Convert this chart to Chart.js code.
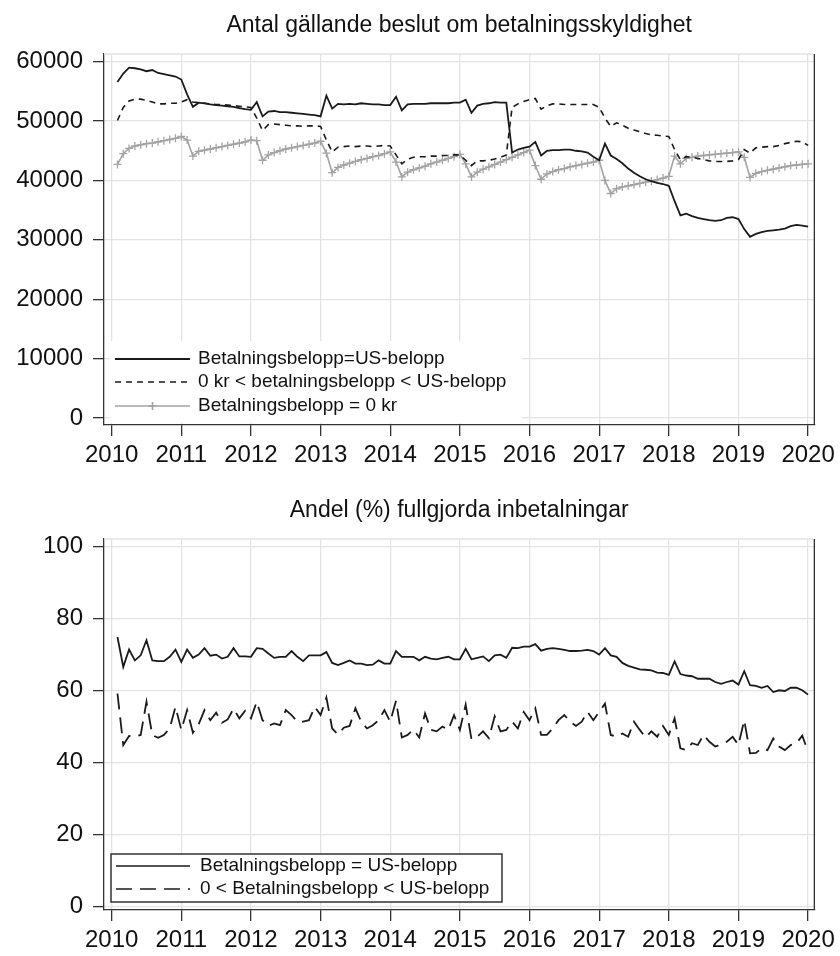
<!DOCTYPE html>
<html>
<head>
<meta charset="utf-8">
<script src="https://cdn.jsdelivr.net/npm/chart.js@4.4.1/dist/chart.umd.min.js"></script>
<style>
  html, body { margin: 0; padding: 0; background: #fff; }
  #wrap { position: relative; width: 840px; height: 956px; }
  canvas { position: absolute; left: 0; }
  #chart-beslut { top: 0; }
  #chart-andel { top: 485px; }
</style>
</head>
<body>
<div id="wrap">
  <canvas id="chart-beslut" width="840" height="485"></canvas>
  <canvas id="chart-andel" width="840" height="471"></canvas>
</div>
<script>
// monthly observations 2010m2 .. 2020m1
const months = [];
for (let y = 2010; y <= 2020; y++) {
  for (let m = 1; m <= 12; m++) {
    if ((y === 2010 && m < 2) || (y === 2020 && m > 1)) continue;
    months.push({ year: y, month: m });
  }
}
const years = [2010, 2011, 2012, 2013, 2014, 2015, 2016, 2017, 2018, 2019, 2020];
const beslutTicks = [0, 10000, 20000, 30000, 40000, 50000, 60000];
const andelTicks = [0, 20, 40, 60, 80, 100];

// Antal gällande beslut
const usBelopp = [
  56600, 58000, 59000, 58900, 58700, 58400, 58600, 58100, 57900, 57700, 57500, 57000,
  54500, 52400, 53100, 53000, 52800, 52700, 52600, 52500, 52400, 52200, 52000, 51900,
  53200, 50800, 51600, 51700, 51500, 51500, 51400, 51300, 51200, 51100, 51000, 50800,
  54300, 52100, 52900, 52800, 52900, 52800, 53000, 52900, 52800, 52800, 52700, 52700,
  54100, 51800, 52800, 52900, 52900, 52900, 53000, 53000, 53000, 53000, 53100, 53100,
  53600, 51400, 52600, 52900, 53000, 53200, 53100, 53100, 44700, 45200, 45500, 45700,
  46500, 44200, 45000, 45100, 45100, 45200, 45200, 45000, 44900, 44700, 44000, 43400,
  46200, 44200, 43600, 42900, 42000, 41300, 40700, 40200, 39900, 39600, 39400, 39100,
  36500, 34100, 34400, 34000, 33700, 33500, 33300, 33200, 33300, 33700, 33800, 33500,
  31800, 30500, 31000, 31300, 31500, 31600, 31700, 31900, 32300, 32500, 32400, 32200
];
const delBelopp = [
  50100, 52300, 53400, 53700, 53700, 53500, 53200, 52900, 52900, 53000, 53000, 53200,
  53600, 53200, 53100, 53000, 52900, 52800, 52800, 52700, 52600, 52500, 52400, 52300,
  50500, 48400, 49400, 49500, 49400, 49300, 49200, 49200, 49100, 49200, 49200, 49100,
  46800, 44800, 45600, 45700, 45800, 45700, 45800, 45800, 45700, 45800, 45900, 45800,
  44300, 42800, 43600, 43900, 44000, 44000, 44100, 44100, 44200, 44200, 44300, 44300,
  43400, 42500, 43300, 43300, 43400, 43600, 43900, 44300, 52300, 52900, 53300, 53600,
  53800, 52000, 52600, 52900, 52900, 52800, 52800, 52800, 52800, 52800, 52800, 52300,
  50500, 49100, 49700, 49300, 48800, 48500, 48200, 47900, 47700, 47600, 47500, 47400,
  45200, 43500, 44000, 43900, 43700, 43500, 43300, 43200, 43200, 43200, 43300, 43500,
  45200, 44600, 45500, 45600, 45700, 45700, 45900, 46200, 46400, 46600, 46500, 45900
];
const nollBelopp = [
  42700, 44500, 45400, 45800, 46000, 46200, 46300, 46500, 46700, 46900, 47100, 47400,
  46800, 44100, 44900, 45100, 45300, 45500, 45700, 45900, 46100, 46300, 46500, 46800,
  46700, 43400, 44300, 44700, 45000, 45300, 45500, 45700, 45900, 46100, 46300, 46600,
  44600, 41300, 42200, 42600, 42900, 43200, 43500, 43700, 44000, 44200, 44500, 44800,
  43100, 40600, 41400, 41800, 42100, 42400, 42800, 43100, 43400, 43700, 44000, 44400,
  42800, 40600, 41400, 41900, 42300, 42700, 43100, 43500, 43900, 44300, 44700, 45100,
  42500, 40200, 41100, 41500, 41800, 42000, 42300, 42500, 42700, 42900, 43100, 43400,
  40000, 37800, 38600, 38900, 39100, 39300, 39500, 39700, 39900, 40100, 40400, 40700,
  44100, 42800, 43700, 43900, 44100, 44200, 44300, 44400, 44500, 44600, 44700, 44800,
  43900, 40500, 41200, 41500, 41700, 41900, 42100, 42300, 42500, 42600, 42700, 42800
];

// Andel (%) fullgjorda inbetalningar
const andelUs = [
  74.8, 66.5, 71.3, 68.3, 69.7, 73.9, 68.3, 68.1, 68.1, 69.3, 71.3, 67.9,
  71.3, 69.0, 69.9, 71.7, 69.6, 69.9, 68.8, 69.3, 71.7, 69.4, 69.4, 69.3,
  71.7, 71.5, 70.2, 69.0, 69.3, 69.3, 70.9, 69.3, 68.1, 69.7, 69.7, 69.7,
  70.6, 67.6, 67.0, 67.6, 68.3, 67.4, 67.4, 67.0, 67.1, 68.3, 67.4, 67.4,
  70.9, 69.3, 69.3, 69.3, 68.3, 69.3, 68.8, 68.6, 69.0, 69.3, 68.6, 68.6,
  71.5, 68.6, 69.0, 69.4, 68.1, 69.7, 69.9, 69.0, 71.8, 71.7, 72.1, 72.1,
  72.8, 71.0, 71.5, 71.7, 71.5, 71.2, 70.9, 70.9, 71.0, 71.2, 70.9, 69.9,
  71.7, 69.7, 69.3, 67.6, 66.8, 66.3, 65.8, 65.7, 65.5, 64.9, 64.8, 64.3,
  68.0, 64.5, 64.1, 63.9, 63.2, 63.2, 63.2, 62.3, 61.8, 62.3, 62.7, 61.6,
  65.3, 61.4, 61.2, 60.7, 61.2, 59.5, 60.0, 59.8, 60.7, 60.7, 60.0, 58.8
];
const andelDel = [
  59.1, 44.8, 47.3, 47.1, 47.6, 56.8, 47.6, 46.8, 47.6, 49.4, 55.4, 49.0,
  54.5, 48.2, 50.6, 54.5, 51.7, 53.8, 51.0, 51.9, 54.9, 52.2, 54.3, 52.2,
  56.8, 51.7, 50.1, 50.8, 50.3, 54.5, 53.1, 51.3, 51.3, 51.7, 55.4, 53.1,
  58.0, 49.4, 47.7, 49.6, 50.1, 55.0, 51.3, 49.4, 50.3, 51.7, 54.5, 51.3,
  57.1, 46.9, 47.6, 49.1, 46.9, 53.6, 49.0, 48.6, 49.9, 49.0, 53.1, 49.0,
  56.0, 46.4, 47.1, 48.6, 46.7, 52.8, 48.6, 49.0, 51.3, 49.4, 54.0, 51.7,
  55.0, 47.6, 47.6, 49.4, 51.7, 53.1, 51.3, 50.1, 51.3, 54.0, 51.7, 54.0,
  56.3, 47.6, 47.1, 48.0, 47.1, 51.3, 49.0, 46.9, 48.6, 47.1, 50.1, 47.6,
  52.2, 43.9, 43.4, 45.3, 44.8, 47.6, 45.7, 44.4, 45.0, 45.7, 47.1, 44.8,
  51.7, 42.5, 42.6, 43.9, 43.4, 46.6, 44.4, 43.4, 44.8, 45.3, 47.4, 42.9
];

const FONT = "'Liberation Sans', Arial, Helvetica, sans-serif";
const INK = '#1a1a1a';
const GRAY = '#a3a3a3';
const GRID = '#e3e3e3';

Chart.defaults.font.family = FONT;
Chart.defaults.color = '#111';

const toPoints = (vals) => vals.map((v, i) => ({ x: months[i].year + (months[i].month - 1) / 12, y: v }));

// frame lines + legend drawn inside the plot region
const framePlugin = {
  id: 'frame',
  afterDatasetsDraw(chart, args, opts) {
    const { ctx, chartArea: a } = chart;
    ctx.save();
    ctx.strokeStyle = GRID;
    ctx.lineWidth = 1.3;
    ctx.beginPath(); ctx.moveTo(a.left, a.top); ctx.lineTo(a.right, a.top); ctx.stroke();
    ctx.strokeStyle = '#333';
    ctx.beginPath(); ctx.moveTo(a.right, a.top); ctx.lineTo(a.right, a.bottom); ctx.stroke();

    const lg = opts.legend;
    ctx.fillStyle = '#fff';
    ctx.fillRect(lg.x, lg.y, lg.w, lg.h);
    if (lg.border) {
      ctx.strokeStyle = '#333';
      ctx.lineWidth = 1.5;
      ctx.strokeRect(lg.x, lg.y, lg.w, lg.h);
    }
    ctx.font = `${lg.fontSize}px ${FONT}`;
    ctx.textBaseline = 'middle';
    ctx.textAlign = 'left';
    lg.items.forEach((it, i) => {
      const y = lg.rowY[i];
      ctx.strokeStyle = it.color;
      ctx.lineWidth = it.width;
      ctx.setLineDash(it.dash || []);
      ctx.beginPath(); ctx.moveTo(lg.lineX0, y); ctx.lineTo(lg.lineX1, y); ctx.stroke();
      ctx.setLineDash([]);
      if (it.marker) {
        const mx = (lg.lineX0 + lg.lineX1) / 2;
        ctx.beginPath();
        ctx.moveTo(mx - 4, y); ctx.lineTo(mx + 4, y);
        ctx.moveTo(mx, y - 4); ctx.lineTo(mx, y + 4);
        ctx.stroke();
      }
      ctx.fillStyle = '#111';
      ctx.fillText(it.text, lg.textX, y);
    });
    ctx.restore();
  }
};

function axisOptions(tickValues, min, max, xHeight) {
  const grid = { color: GRID, lineWidth: 1.3, tickColor: '#333', tickLength: 11, tickWidth: 1.3 };
  return {
    x: {
      type: 'linear', min: 2009.89, max: 2020.09,
      afterBuildTicks: (s) => { s.ticks = years.map(v => ({ value: v })); },
      afterFit: (s) => { s.height = xHeight; },
      grid: grid,
      border: { color: '#333', width: 1.3 },
      ticks: { font: { size: 24 }, padding: 5, maxRotation: 0, autoSkip: false, callback: v => String(v) }
    },
    y: {
      min: min, max: max,
      afterBuildTicks: (s) => { s.ticks = tickValues.map(v => ({ value: v })); },
      afterFit: (s) => { s.width = 104; },
      grid: grid,
      border: { color: '#333', width: 1.3 },
      ticks: { font: { size: 24 }, padding: 10, callback: v => String(v) }
    }
  };
}

function baseOptions(title, scales, legend) {
  return {
    responsive: false,
    animation: false,
    devicePixelRatio: 1,
    layout: { padding: { left: 0, right: 22, top: 0, bottom: 0 } },
    plugins: {
      legend: { display: false },
      tooltip: { enabled: false },
      title: {
        display: true, text: title, fullSize: false, color: '#111',
        font: { size: 23, weight: 'normal' }, padding: { top: 12, bottom: 14.4 }
      },
      frame: { legend: legend }
    },
    scales: scales
  };
}

new Chart(document.getElementById('chart-beslut'), {
  type: 'line',
  data: {
    datasets: [
      { data: toPoints(usBelopp), borderColor: INK, borderWidth: 1.8, pointRadius: 0, tension: 0 },
      { data: toPoints(delBelopp), borderColor: INK, borderWidth: 1.6, borderDash: [6, 5], pointRadius: 0, tension: 0 },
      { data: toPoints(nollBelopp), borderColor: GRAY, borderWidth: 1.6, pointStyle: 'cross', pointRadius: 4,
        pointBorderColor: GRAY, pointBorderWidth: 1.3, tension: 0 }
    ]
  },
  options: baseOptions('Antal gällande beslut om betalningsskyldighet',
    axisOptions(beslutTicks, -1200, 61300, 60),
    {
      x: 110, y: 341, w: 412, h: 82, border: false, fontSize: 19,
      lineX0: 115, lineX1: 190, textX: 198, rowY: [359, 382, 406],
      items: [
        { text: 'Betalningsbelopp=US-belopp', color: INK, width: 1.8 },
        { text: '0 kr < betalningsbelopp < US-belopp', color: INK, width: 1.6, dash: [6, 5] },
        { text: 'Betalningsbelopp = 0 kr', color: GRAY, width: 1.6, marker: true }
      ]
    }),
  plugins: [framePlugin]
});

new Chart(document.getElementById('chart-andel'), {
  type: 'line',
  data: {
    datasets: [
      { data: toPoints(andelUs), borderColor: INK, borderWidth: 1.8, pointRadius: 0, tension: 0 },
      { data: toPoints(andelDel), borderColor: INK, borderWidth: 1.8, borderDash: [16, 8], pointRadius: 0, tension: 0 }
    ]
  },
  options: baseOptions('Andel (%) fullgjorda inbetalningar',
    axisOptions(andelTicks, -1, 102, 46),
    {
      x: 111, y: 369, w: 391, h: 48, border: true, fontSize: 19,
      lineX0: 116, lineX1: 190, textX: 200, rowY: [381, 404],
      items: [
        { text: 'Betalningsbelopp = US-belopp', color: INK, width: 1.6 },
        { text: '0 < Betalningsbelopp < US-belopp', color: INK, width: 1.6, dash: [16, 8] }
      ]
    }),
  plugins: [framePlugin]
});
</script>
</body>
</html>
